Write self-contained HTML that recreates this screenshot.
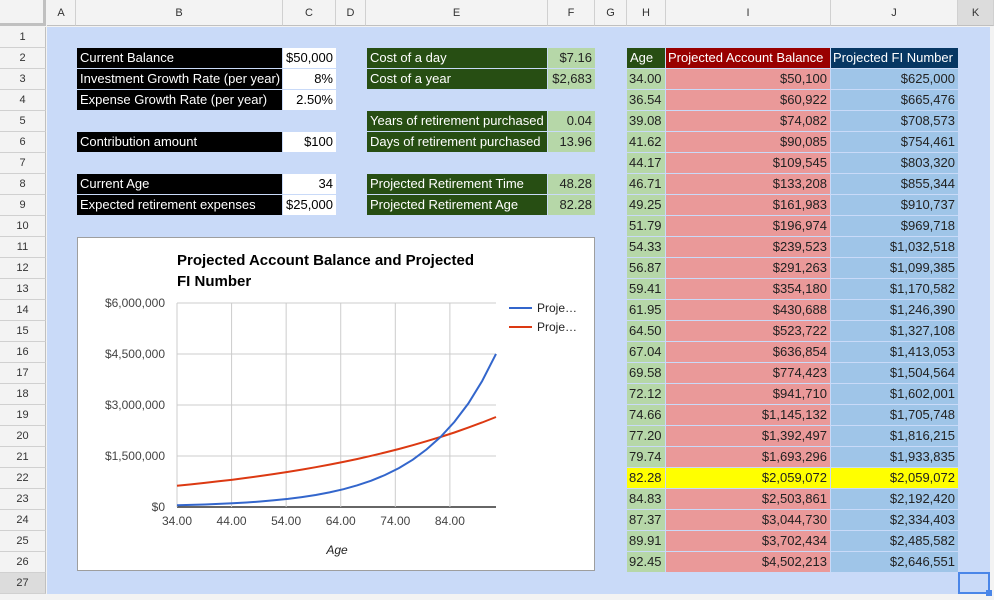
<!DOCTYPE html>
<html><head><meta charset="utf-8">
<style>
*{box-sizing:border-box;margin:0;padding:0}
body{width:994px;height:600px;overflow:hidden;background:#f3f3f3;font-family:"Liberation Sans",Arial,sans-serif;position:relative}
.abs{position:absolute}
.ch{position:absolute;top:0;height:26px;background:#f3f3f3;border-right:1px solid #d0d0d0;border-bottom:1px solid #c0c0c0;font-size:11px;color:#333;text-align:center;line-height:26px}
.rh{position:absolute;left:0;width:46px;height:21px;background:#f3f3f3;border-bottom:1px solid #d0d0d0;border-right:1px solid #c0c0c0;font-size:11px;color:#333;text-align:center;line-height:21px}
.c{position:absolute;height:20px;font-size:13px;line-height:20px;padding:0 3px;white-space:nowrap;overflow:hidden}
.lb{background:#000;color:#fff}
.wv{background:#fff;color:#000;text-align:right}
.gl{background:#274e13;color:#fff}
.gv{background:#b6d7a8;color:#222;text-align:right}
</style></head><body>
<div class="abs" style="left:47px;top:27px;width:943px;height:567px;background:#c9daf8"></div>
<div class="abs" style="left:0;top:0;width:46px;height:26px;background:#f3f3f3;border-right:3px solid #c0c0c0;border-bottom:3px solid #c0c0c0"></div>
<div id="hdrs"></div>

<div class="c lb" style="left:77px;top:48px;width:205px">Current Balance</div>
<div class="c wv" style="left:283px;top:48px;width:53px">$50,000</div>
<div class="c lb" style="left:77px;top:69px;width:205px">Investment Growth Rate (per year)</div>
<div class="c wv" style="left:283px;top:69px;width:53px">8%</div>
<div class="c lb" style="left:77px;top:90px;width:205px">Expense Growth Rate (per year)</div>
<div class="c wv" style="left:283px;top:90px;width:53px">2.50%</div>
<div class="c lb" style="left:77px;top:132px;width:205px">Contribution amount</div>
<div class="c wv" style="left:283px;top:132px;width:53px">$100</div>
<div class="c lb" style="left:77px;top:174px;width:205px">Current Age</div>
<div class="c wv" style="left:283px;top:174px;width:53px">34</div>
<div class="c lb" style="left:77px;top:195px;width:205px">Expected retirement expenses</div>
<div class="c wv" style="left:283px;top:195px;width:53px">$25,000</div>

<div class="c gl" style="left:367px;top:48px;width:180px">Cost of a day</div>
<div class="c gv" style="left:548px;top:48px;width:47px">$7.16</div>
<div class="c gl" style="left:367px;top:69px;width:180px">Cost of a year</div>
<div class="c gv" style="left:548px;top:69px;width:47px">$2,683</div>
<div class="c gl" style="left:367px;top:111px;width:180px">Years of retirement purchased</div>
<div class="c gv" style="left:548px;top:111px;width:47px">0.04</div>
<div class="c gl" style="left:367px;top:132px;width:180px">Days of retirement purchased</div>
<div class="c gv" style="left:548px;top:132px;width:47px">13.96</div>
<div class="c gl" style="left:367px;top:174px;width:180px">Projected Retirement Time</div>
<div class="c gv" style="left:548px;top:174px;width:47px">48.28</div>
<div class="c gl" style="left:367px;top:195px;width:180px">Projected Retirement Age</div>
<div class="c gv" style="left:548px;top:195px;width:47px">82.28</div>

<div class="c" style="left:627px;top:48px;width:38px;background:#274e13;color:#fff">Age</div>
<div class="c" style="left:666px;top:48px;width:164px;background:#990000;color:#fff;padding:0 2px">Projected Account Balance</div>
<div class="c" style="left:831px;top:48px;width:127px;background:#073763;color:#fff;padding:0 2px">Projected FI Number</div>
<div id="tbl"></div>

<div class="abs" style="left:958px;top:572px;width:32px;height:22px;border:2px solid #4a86e8"></div>
<div class="abs" style="left:986px;top:590px;width:6px;height:6px;background:#4a86e8"></div>

<svg class="abs" style="left:77px;top:237px" width="518" height="335" id="chart">
<rect x="0.5" y="0.5" width="517" height="333" fill="#fff" stroke="#9e9e9e"/>
<text x="100" y="28" font-size="15" font-weight="bold" fill="#000" font-family="Liberation Sans,Arial,sans-serif">Projected Account Balance and Projected</text>
<text x="100" y="49" font-size="15" font-weight="bold" fill="#000" font-family="Liberation Sans,Arial,sans-serif">FI Number</text>
<text x="260" y="317" font-size="12" font-style="italic" fill="#222" text-anchor="middle" font-family="Liberation Sans,Arial,sans-serif">Age</text>
<line x1="432" y1="71" x2="455" y2="71" stroke="#3366cc" stroke-width="2"/>
<text x="460" y="75" font-size="12" fill="#222" font-family="Liberation Sans,Arial,sans-serif">Proje…</text>
<line x1="432" y1="90" x2="455" y2="90" stroke="#dc3912" stroke-width="2"/>
<text x="460" y="94" font-size="12" fill="#222" font-family="Liberation Sans,Arial,sans-serif">Proje…</text>
<g id="plot"></g>
</svg>

<script>
const cols = ["A","B","C","D","E","F","G","H","I","J","K"];
const colEdges = [47,76,283,336,366,548,595,627,666,831,958,994];
const ages = [34.00,36.54,39.08,41.62,44.17,46.71,49.25,51.79,54.33,56.87,59.41,61.95,64.50,67.04,69.58,72.12,74.66,77.20,79.74,82.28,84.83,87.37,89.91,92.45];
const balances = [50100,60922,74082,90085,109545,133208,161983,196974,239523,291263,354180,430688,523722,636854,774423,941710,1145132,1392497,1693296,2059072,2503861,3044730,3702434,4502213];
const fiNumbers = [625000,665476,708573,754461,803320,855344,910737,969718,1032518,1099385,1170582,1246390,1327108,1413053,1504564,1602001,1705748,1816215,1933835,2059072,2192420,2334403,2485582,2646551];
const yTicks = [0,1500000,3000000,4500000,6000000];
const yTickLabels = ["$0","$1,500,000","$3,000,000","$4,500,000","$6,000,000"];
const xTicks = [34,44,54,64,74,84];
const xTickLabels = ["34.00","44.00","54.00","64.00","74.00","84.00"];
const highlightAge = 82.28;

const hd = document.getElementById('hdrs');
for (let i = 0; i < cols.length; i++) {
  const d = document.createElement('div');
  d.className = 'ch';
  
  
  d.style.left = colEdges[i] + 'px';
  d.style.width = (colEdges[i+1] - colEdges[i]) + 'px';
  if (cols[i] === 'K') d.style.background = '#dcdcdc';
  d.textContent = cols[i];
  hd.appendChild(d);
}
for (let r = 1; r <= 27; r++) {
  const d = document.createElement('div');
  d.className = 'rh';
  
  
  d.style.top = (27 + (r-1)*21) + 'px';
  if (r === 27) d.style.background = '#dcdcdc';
  d.textContent = r;
  hd.appendChild(d);
}
function money(v){return '$' + v.toLocaleString('en-US');}
const tb = document.getElementById('tbl');
for (let i = 0; i < ages.length; i++) {
  const top = 69 + i*21;
  const hl = ages[i] === highlightAge;
  const a = document.createElement('div');
  a.className = 'c';
  
  
  a.style.cssText = `left:627px;top:${top}px;width:38px;background:${hl?'#ffff00':'#b6d7a8'};color:#222;padding:0 2px`;
  a.textContent = ages[i].toFixed(2);
  tb.appendChild(a);
  const b = document.createElement('div');
  b.className = 'c';
  
  
  b.style.cssText = `left:666px;top:${top}px;width:164px;background:${hl?'#ffff00':'#ea9999'};color:#222;text-align:right`;
  b.textContent = money(balances[i]);
  tb.appendChild(b);
  const f = document.createElement('div');
  f.className = 'c';
  
  
  f.style.cssText = `left:831px;top:${top}px;width:127px;background:${hl?'#ffff00':'#9fc5e8'};color:#222;text-align:right`;
  f.textContent = money(fiNumbers[i]);
  tb.appendChild(f);
}

// chart (coords relative to svg at 77,237)
const NS = 'http://www.w3.org/2000/svg';
const px0 = 100, px1 = 419, py0 = 270, py1 = 66;
const xMin = 34, xMax = 92.45, yMax = 6000000;
function xs(v){return px0 + (v - xMin) / (xMax - xMin) * (px1 - px0);}
function ys(v){return py0 - v / yMax * (py0 - py1);}
const g = document.getElementById('plot');
for (let i = 0; i < yTicks.length; i++) {
  const y = ys(yTicks[i]);
  const l = document.createElementNS(NS,'line');
  
  
  l.setAttribute('x1', px0); l.setAttribute('x2', px1);
  l.setAttribute('y1', y); l.setAttribute('y2', y);
  l.setAttribute('stroke', yTicks[i] === 0 ? '#333' : '#ccc');
  l.setAttribute('stroke-width', yTicks[i] === 0 ? 1.5 : 1);
  g.appendChild(l);
  const t = document.createElementNS(NS,'text');
  
  
  t.setAttribute('x', 88); t.setAttribute('y', y + 4);
  t.setAttribute('text-anchor', 'end'); t.setAttribute('font-size', '12');
  t.setAttribute('fill', '#444');
  t.setAttribute('font-family', 'Liberation Sans,Arial,sans-serif');
  t.textContent = yTickLabels[i];
  g.appendChild(t);
}
const vl = document.createElementNS(NS,'line');


for (let i = 0; i < xTicks.length; i++) {
  const x = xs(xTicks[i]);
  const l = document.createElementNS(NS,'line');
  
  
  l.setAttribute('x1', x); l.setAttribute('x2', x);
  l.setAttribute('y1', py1); l.setAttribute('y2', py0);
  l.setAttribute('stroke', '#ccc');
  g.appendChild(l);
  const t = document.createElementNS(NS,'text');
  
  
  t.setAttribute('x', x); t.setAttribute('y', py0 + 18);
  t.setAttribute('text-anchor', 'middle'); t.setAttribute('font-size', '12');
  t.setAttribute('fill', '#444');
  t.setAttribute('font-family', 'Liberation Sans,Arial,sans-serif');
  t.textContent = xTickLabels[i];
  g.appendChild(t);
}
function series(vals, color, name){
  const p = document.createElementNS(NS,'path');
  
  
  let d = '';
  for (let i = 0; i < ages.length; i++) d += (i ? 'L' : 'M') + xs(ages[i]).toFixed(1) + ',' + ys(vals[i]).toFixed(1);
  p.setAttribute('d', d);
  p.setAttribute('fill', 'none');
  p.setAttribute('stroke', color);
  p.setAttribute('stroke-width', '2');
  g.appendChild(p);
}
series(fiNumbers, '#dc3912', 'fi-number-line');
series(balances, '#3366cc', 'account-balance-line');
</script>
</body></html>
